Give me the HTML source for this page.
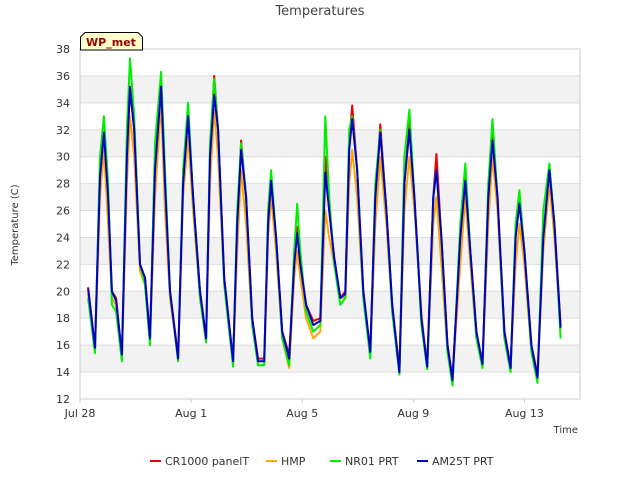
<!DOCTYPE html>
<html><head><meta charset="utf-8"><style>
body{margin:0;background:#fff;font-family:"DejaVu Sans","Liberation Sans",sans-serif}
svg{display:block}
</style></head><body>
<svg id="chart" width="640" height="480"></svg>
<script>
const times=[.29,.54,.72,.86,1.01,1.15,1.30,1.51,1.69,1.80,1.95,2.16,2.34,2.52,2.70,2.92,3.06,3.24,3.53,3.71,3.89,4.07,4.32,4.54,4.68,4.83,4.97,5.19,5.51,5.66,5.80,5.98,6.20,6.41,6.63,6.77,6.88,7.06,7.28,7.53,7.71,7.82,7.93,8.14,8.40,8.65,8.83,8.97,9.15,9.37,9.55,9.69,9.80,9.98,10.20,10.45,10.63,10.81,11.03,11.24,11.50,11.68,11.86,12.04,12.29,12.50,12.72,12.83,13.01,13.23,13.41,13.69,13.87,14.05,14.27,14.49,14.70,14.85,15.03,15.28,15.50,15.68,15.82,16.00,16.25,16.47,16.68,16.90,17.08,17.30];
const cr1000=[20.3,15.8,29,31.8,27,20,19.5,15.2,30,35,32,22,21,16.5,30,35.5,28,20,15.2,28,33.2,27,20,16.5,30,36,32,21,14.8,25,31.2,27,18,15,15,25,28.2,24,17,15.3,22,24.8,22,19,17.8,18,30,26,22.5,19.5,20,31,33.8,29,20,15.5,27,32.4,26,19,14.2,28,32.5,27,18,14.5,27,30.2,24,16,13.6,24,28.8,23,17,14.6,27,32,27,17,14.4,24,27.2,23,16,13.8,24,29,25,17.5];
const hmp=[19.8,15.6,27,30.5,25,19.5,19,15,28,33,30,21.5,20.5,16.2,27,34,26,19.5,15,27,31.5,26,19.5,16.3,28,33.5,30,20.5,14.6,23,29,25,17.5,14.5,14.5,24,27,23,16.5,14.3,21,23,21,18,16.5,17,26,24,22,19.5,19.5,28,30.5,27,19.5,15.2,25,30,25,18.5,14,26,30,26,18.5,14.3,25,27,22,15.5,13.5,22,27,22,16.5,14.4,25,30,26,16.5,14.3,22,25,22,15.5,13.6,23,28,24,17.2];
const nr01=[19.5,15.4,30,33,28,19,18.5,14.8,32,37.3,33,22,20.5,16,31,36.3,29,20,14.8,29,34,27,19.5,16.2,31,35.8,32,20.5,14.4,26,31,27,17.5,14.5,14.5,26,29,24,16.5,14.5,23,26.5,23,18.5,17,17.5,33,27,22,19,19.5,32,33,29,19.5,15,28,32,26,18.5,13.8,30,33.5,27,17.5,14.2,27,29,24,15.5,13,25,29.5,23,16.5,14.3,28,32.8,27,16.5,14,25,27.5,23,15.5,13.2,26,29.5,25,16.5];
const am25t=[20.2,15.8,28.5,31.8,27,20,19.3,15.3,30,35.2,32,22,21,16.5,29,35.2,28,20,15,28,33,27,20,16.5,30,34.6,32,21,14.8,25,30.5,27,18,14.8,14.8,25,28.2,24,17,15,22,24.3,22,19,17.5,17.8,28.8,26,22.5,19.5,19.8,30.5,32.8,29,20,15.5,27,31.8,26,19,14,28,32,27,18,14.4,27,29,24,16,13.4,24,28.2,23,17,14.6,27,31.2,27,17,14.3,24,26.5,23,16,13.6,24,29,25,17.3];
const yTicks=[12,14,16,18,20,22,24,26,28,30,32,34,36,38];
const xTickDays=[0,4,8,12,16];
const xTickLabels=["Jul 28","Aug 1","Aug 5","Aug 9","Aug 13"];
const seriesNames=["CR1000 panelT","HMP","NR01 PRT","AM25T PRT"];
const seriesColors=["#ee0000","#ffa500","#00ee00","#0000cc"];
const seriesData=[cr1000,hmp,nr01,am25t];

const NS="http://www.w3.org/2000/svg";
const svg=document.getElementById('chart');
const L=80,R=580,T=49,B=399,ymin=12,ymax=38,dmax=18;
const xs=d=>L+d/dmax*(R-L);
const ys=v=>B-(v-ymin)/(ymax-ymin)*(B-T);
function mk(tag,attrs,parent){const e=document.createElementNS(NS,tag);for(const k in attrs)e.setAttribute(k,attrs[k]);(parent||svg).appendChild(e);return e;}

const plot=mk('g',{});


for(let v=14;v<36;v+=4){
  const r=mk('rect',{x:L,y:ys(v+2),width:R-L,height:ys(v)-ys(v+2),fill:'#f2f2f2'},plot);
  
  
}
yTicks.forEach(v=>{
  const l=mk('line',{x1:L,x2:R,y1:ys(v),y2:ys(v),stroke:'#dddddd','stroke-width':1},plot);
  
  
  const t=mk('text',{x:L-10,y:ys(v)+4,'text-anchor':'end','font-size':11,fill:'#333'});
  t.textContent=v;
  
  
});
xTickDays.forEach((d,i)=>{
  const t=mk('text',{x:xs(d),y:B+18,'text-anchor':'middle','font-size':11,fill:'#333'});
  t.textContent=xTickLabels[i];
  
  
  const tk=mk('line',{x1:xs(d),x2:xs(d),y1:B,y2:B+4,stroke:'#ccc'});
  
  
});
const border=mk('rect',{x:L,y:T,width:R-L,height:B-T,fill:'none',stroke:'#cccccc'},plot);



seriesData.forEach((arr,si)=>{
  const pts=arr.map((v,i)=>xs(times[i]).toFixed(1)+','+ys(v).toFixed(1)).join(' ');
  const p=mk('polyline',{points:pts,fill:'none',stroke:seriesColors[si],'stroke-width':2,'stroke-linejoin':'round'});
  
  
});

const title=mk('text',{x:320,y:15,'text-anchor':'middle','font-size':13,fill:'#444'});
title.textContent='Temperatures';


const yl=mk('text',{x:18,y:225,'text-anchor':'middle','font-size':10,fill:'#333',transform:'rotate(-90 18 225)'});
yl.textContent='Temperature (C)';


const xl=mk('text',{x:578,y:433,'text-anchor':'end','font-size':10,fill:'#333'});
xl.textContent='Time';



const badge=mk('g',{});


mk('path',{d:'M80.5,50 L80.5,37 L85,32.5 L138,32.5 L142.5,37 L142.5,50 Z',fill:'#ffffcc',stroke:'#000','stroke-width':1},badge);
const bt=mk('text',{x:111,y:46,'text-anchor':'middle','font-size':11,'font-weight':'bold',fill:'#990000'},badge);
bt.textContent='WP_met';

const legX=[150,266,330,417];
seriesNames.forEach((n,i)=>{
  const g=mk('g',{});
  
  
  mk('line',{x1:legX[i],x2:legX[i]+11,y1:461,y2:461,stroke:seriesColors[i],'stroke-width':2},g);
  const t=mk('text',{x:legX[i]+15,y:465,'font-size':11,fill:'#333'},g);
  t.textContent=n;
});
</script>
</body></html>
